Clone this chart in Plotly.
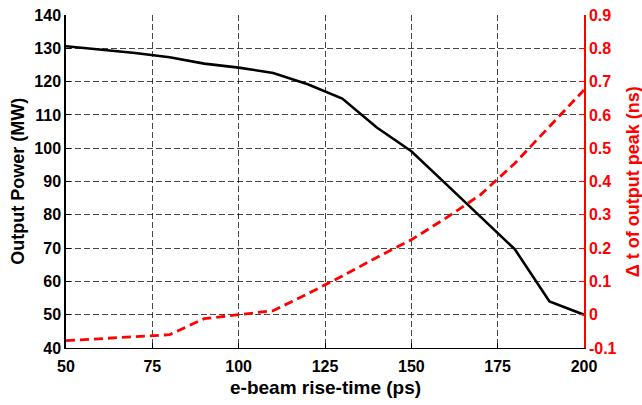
import plotly.graph_objects as go

rise_time = [50, 60, 70, 80, 90, 100, 110, 120, 130, 140, 150, 160, 170, 180, 190, 200]
power_mw = [130.6, 129.6, 128.6, 127.3, 125.4, 124.2, 122.6, 119.2, 114.9, 106.2, 99.1, 89.3, 79.5, 69.6, 54.0, 50.0]
delta_t_ns = [-0.078, -0.072, -0.066, -0.060, -0.012, -0.001, 0.012, 0.063, 0.116, 0.172, 0.225, 0.29, 0.36, 0.455, 0.565, 0.675]

x_ticks = [50, 75, 100, 125, 150, 175, 200]
y_ticks = [40, 50, 60, 70, 80, 90, 100, 110, 120, 130, 140]
y2_ticks = [-0.1, 0, 0.1, 0.2, 0.3, 0.4, 0.5, 0.6, 0.7, 0.8, 0.9]
y2_labels = ["-0.1", "0", "0.1", "0.2", "0.3", "0.4", "0.5", "0.6", "0.7", "0.8", "0.9"]

FONT = "Liberation Sans, Arial, sans-serif"
GRID = "rgba(0,0,0,0.72)"

fig = go.Figure()
fig.add_trace(go.Scatter(x=rise_time, y=power_mw, mode="lines",
                         line=dict(color="black", width=2.6), yaxis="y", showlegend=False))
fig.add_trace(go.Scatter(x=rise_time, y=delta_t_ns, mode="lines",
                         line=dict(color="#ff0000", width=2.8, dash="9px,5px"), yaxis="y2", showlegend=False))

fig.update_layout(
    width=642, height=405,
    margin=dict(l=66, r=58, t=15, b=57, autoexpand=False),
    paper_bgcolor="white", plot_bgcolor="white",
    font=dict(family=FONT, size=16, color="black"),
    xaxis=dict(range=[50, 200], tickvals=x_ticks, ticktext=[str(v) for v in x_ticks],
               automargin=False,
               showgrid=True, gridcolor=GRID, griddash="6px,3px", gridwidth=1,
               showline=True, linecolor="black", linewidth=1.2, mirror=False,
               ticks="inside", ticklen=5, tickcolor="black", ticklabelstandoff=4,
               tickfont=dict(family=FONT, size=16, color="black", weight="bold"),
               zeroline=False),
    yaxis=dict(range=[40, 140], tickvals=y_ticks, ticktext=[str(v) for v in y_ticks],
               automargin=False,
               showgrid=True, gridcolor=GRID, griddash="6px,3px", gridwidth=1,
               showline=True, linecolor="black", linewidth=1.5,
               ticks="inside", ticklen=5, tickcolor="black",
               tickfont=dict(family=FONT, size=16, color="black", weight="bold"),
               zeroline=False),
    yaxis2=dict(range=[-0.1, 0.9], tickvals=y2_ticks, ticktext=y2_labels,
                automargin=False,
                overlaying="y", side="right", showgrid=False,
                showline=True, linecolor="#ff0000", linewidth=1.5,
                ticks="inside", ticklen=5, tickcolor="#ff0000",
                tickfont=dict(family=FONT, size=16, color="#ff0000", weight="bold"),
                zeroline=False),
    annotations=[
        dict(text="e-beam rise-time (ps)", xref="paper", yref="paper",
             x=0.5, y=-0.12, xanchor="center", yanchor="middle", showarrow=False,
             font=dict(family=FONT, size=19, color="black", weight="bold")),
        dict(text="Output Power (MW)", textangle=-90, xref="paper", yref="paper",
             x=-0.094, y=0.5, xanchor="center", yanchor="middle", showarrow=False,
             font=dict(family=FONT, size=18, color="black", weight="bold")),
        dict(text="Δ t of output peak (ns)", textangle=-90, xref="paper", yref="paper",
             x=1.094, y=0.5, xanchor="center", yanchor="middle", showarrow=False,
             font=dict(family=FONT, size=18, color="#ff0000", weight="bold")),
    ],
)

fig.write_html("out.html")
